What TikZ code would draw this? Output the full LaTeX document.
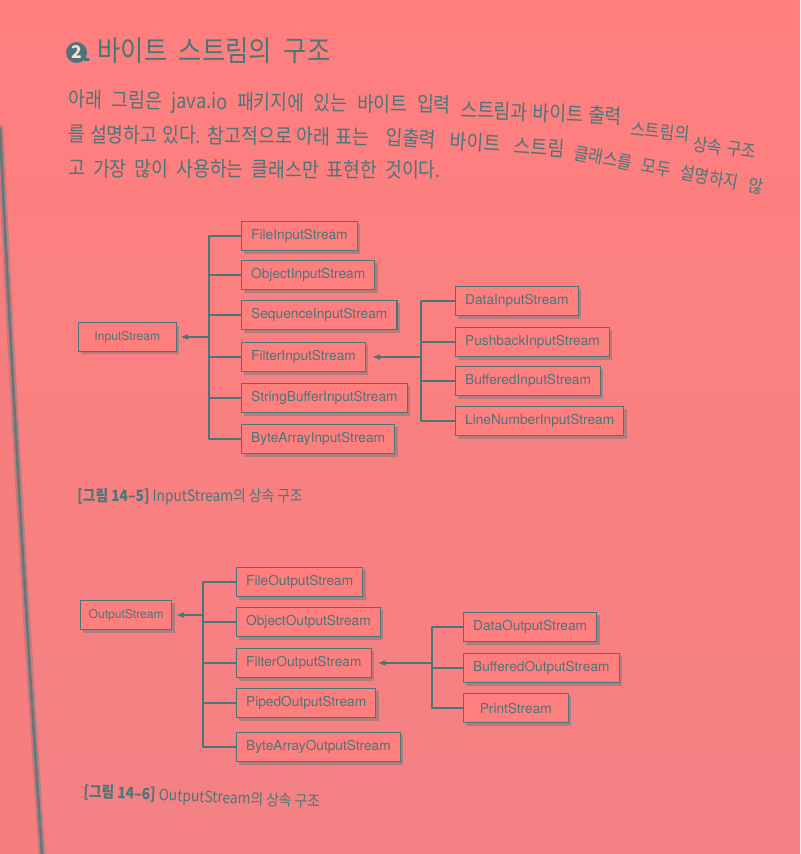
\documentclass[tikz,border=0pt]{standalone}
\usepackage{fontspec}
\setmainfont{Noto Sans CJK KR}
\newfontfamily\bodyfont{Noto Sans CJK KR}[FakeStretch=0.88]
\newfontfamily\boxfont{TeX Gyre Heros}
\usetikzlibrary{arrows.meta,shadows}
\definecolor{pagebg}{RGB}{255,127,127}
\definecolor{pagelow}{RGB}{243,129,131}
\definecolor{ink}{RGB}{74,118,120}
\newcommand{\spreadline}[2]{\makebox[#1][s]{#2}}

\begin{document}
\begin{tikzpicture}[x=0.02cm,y=-0.02cm,>={Triangle[length=4pt,width=3pt]},line cap=round,
  cls/.style={draw=ink,line width=0.6pt,fill=pagebg,text=ink,anchor=west,
    font=\boxfont\fontsize{7.8}{9}\selectfont,minimum height=17pt,inner xsep=5.5pt,
    drop shadow={shadow xshift=1.6pt,shadow yshift=-1.9pt,fill=ink,opacity=0.4}},
  root/.style={cls,font=\boxfont\fontsize{6.9}{8}\selectfont,inner xsep=3pt},
  link/.style={draw=ink,line width=0.6pt},
  body/.style={text=ink,anchor=base west,inner sep=0pt,
    font={\bodyfont\fontsize{11.8}{13}\selectfont\spaceskip=0.28em plus 2em minus 0.12em\relax}},
  far/.style={body,font={\bodyfont\fontsize{10.3}{12}\selectfont\spaceskip=0.28em plus 2em minus 0.12em\relax}},
  figcap/.style={text=ink,anchor=base west,inner sep=0pt,font=\bodyfont\fontsize{8.9}{10}\selectfont}]
\shade[top color=pagebg,bottom color=pagelow] (0,0) rectangle (800,854);
\useasboundingbox (0,0) rectangle (800,854);
\fill[pagebg!95!ink] (0,128) .. controls (14,420) and (28,650) .. (42,854) -- (0,854) -- cycle;
\draw[ink,opacity=0.3,line width=4pt] (0,128) .. controls (14,420) and (28,650) .. (42,854);
\draw[ink!85!pagebg,line width=1.5pt] (0,128) .. controls (14,420) and (28,650) .. (42,854);

\node[circle,fill=ink,text=pagebg!30!white,inner sep=0pt,minimum size=11.9pt,
  font=\bfseries\fontsize{10}{10}\selectfont] (num) at (76.5,52.5) {2};
\draw[ink,line width=1.2pt] (84,59.5) -- (88.5,59.5);
\node[anchor=base west,text=ink,inner sep=0pt,
  font={\bodyfont\fontsize{16.4}{19}\selectfont\spaceskip=0.4em\relax}] (title) at (97,62) {바이트 스트림의 구조};

\node[body,rotate=-0.8] (l1a) at (68,107) {\spreadline{217.7pt}{아래 그림은 java.io 패키지에 있는 바이트 입력}};
\node[body,rotate=-2.5] (l1b) at (460,117) {\spreadline{91.9pt}{스트림과 바이트 출력}};
\node[far,rotate=-6] (l1c) at (630,135) {스트림의};
\node[far,rotate=-8] (l1d) at (692,150) {상속 구조};
\node[body,rotate=-0.5] (l2a) at (68,142) {\spreadline{171.2pt}{를 설명하고 있다. 참고적으로 아래 표는}};
\node[body,rotate=-4] (l2b) at (385,144) {\spreadline{102pt}{입출력 바이트 스트림}};
\node[far,rotate=-10.5] (l2c) at (573,159) {\spreadline{108.9pt}{클래스를 모두 설명하지 않}};
\node[body,rotate=-0.3] (l3) at (68,176) {\spreadline{212pt}{고 가장 많이 사용하는 클래스만 표현한 것이다.}};

\node[root,minimum width=55.6pt,minimum height=16pt] (is) at (78,337) {InputStream};
\node[cls] (fis) at (241,236) {FileInputStream};
\node[cls] (ois) at (241,275) {ObjectInputStream};
\node[cls] (sqis) at (241,315) {SequenceInputStream};
\node[cls] (flis) at (241,357) {FilterInputStream};
\node[cls] (sbis) at (241,398) {StringBufferInputStream};
\node[cls] (bais) at (241,439) {ByteArrayInputStream};
\node[cls] (dis) at (455,301) {DataInputStream};
\node[cls] (pbis) at (455,342) {PushbackInputStream};
\node[cls] (bfis) at (455,381) {BufferedInputStream};
\node[cls] (lnis) at (455,421) {LineNumberInputStream};
\coordinate (itr) at (209,0);
\coordinate (fitr) at (421,0);
\draw[link] (itr |- fis.west) -- (itr |- bais.west);
\foreach \c in {fis,ois,sqis,flis,sbis,bais}
  \draw[link] (itr |- \c.west) -- (\c.west);
\draw[link,->,shorten >=2.5pt] (itr |- is.east) -- (is.east);
\draw[link] (fitr |- dis.west) -- (fitr |- lnis.west);
\foreach \c in {dis,pbis,bfis,lnis}
  \draw[link] (fitr |- \c.west) -- (\c.west);
\draw[link,->,shorten >=4pt] (fitr |- flis.east) -- (flis.east);
\node[figcap] (cap1) at (77,501) {\textbf{[그림 14–5]} InputStream의 상속 구조};

\node[root,minimum width=52pt] (os) at (80,615) {OutputStream};
\node[cls] (fos) at (236,582) {FileOutputStream};
\node[cls] (oos) at (236,622) {ObjectOutputStream};
\node[cls] (flos) at (236,663) {FilterOutputStream};
\node[cls] (pos) at (236,703) {PipedOutputStream};
\node[cls] (baos) at (236,747) {ByteArrayOutputStream};
\node[cls] (dos) at (463,627) {DataOutputStream};
\node[cls] (bfos) at (463,668) {BufferedOutputStream};
\node[cls,minimum width=59.5pt] (ps) at (463,708) {PrintStream};
\coordinate (otr) at (203,0);
\coordinate (fotr) at (432,0);
\draw[link] (otr |- fos.west) -- (otr |- baos.west);
\foreach \c in {fos,oos,flos,pos,baos}
  \draw[link] (otr |- \c.west) -- (\c.west);
\draw[link,->,shorten >=2.5pt] (otr |- os.east) -- (os.east);
\draw[link] (fotr |- dos.west) -- (fotr |- ps.west);
\foreach \c in {dos,bfos,ps}
  \draw[link] (fotr |- \c.west) -- (\c.west);
\draw[link,->,shorten >=4pt] (fotr |- flos.east) -- (flos.east);
\node[figcap,rotate=-2.5] (cap2) at (83,797) {\textbf{[그림 14–6]} OutputStream의 상속 구조};
\end{tikzpicture}
\end{document}
